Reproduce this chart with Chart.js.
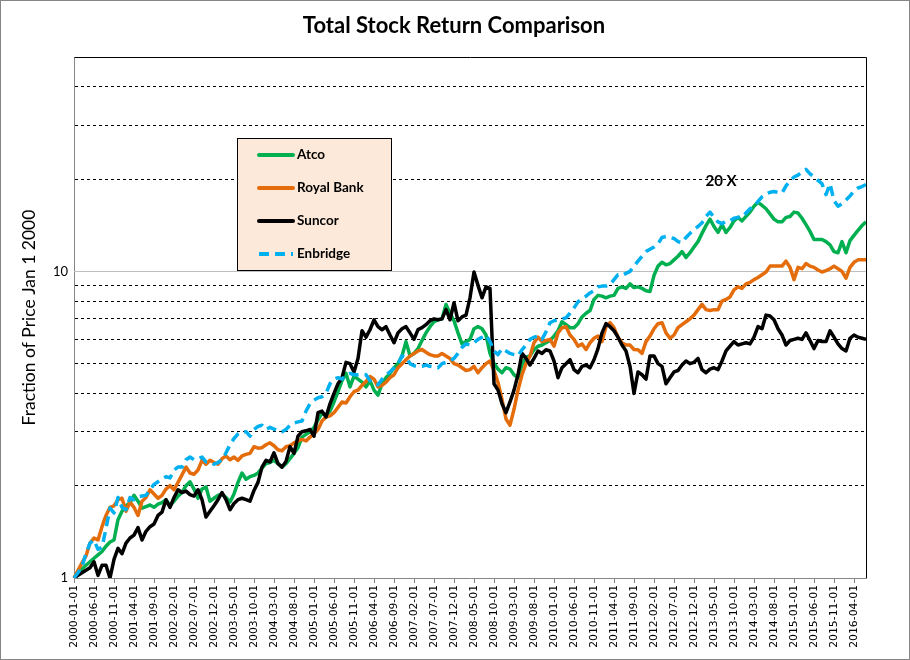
<!DOCTYPE html>
<html>
<head>
<meta charset="utf-8">
<title>Total Stock Return Comparison</title>
<script src="https://cdn.jsdelivr.net/npm/chart.js@4.4.1/dist/chart.umd.min.js"></script>
<style>
  html, body { margin: 0; padding: 0; background: #fff; }
  canvas { display: block; }
</style>
</head>
<body>
<canvas id="returnChart" width="910" height="660"></canvas>
<script>
// monthly closes, Jan 2000 .. Jul 2016, as fraction of Jan 1 2000 price
const months = [];
for (let y = 2000; y <= 2016; y++) {
    for (let m = 1; m <= 12; m++) {
        if (y === 2016 && m > 7) break;
        months.push(y + '-' + String(m).padStart(2, '0') + '-01');
    }
}

const atco = [
    1.0, 1.03, 1.07, 1.1, 1.13, 1.16, 1.19, 1.22, 1.27, 1.31,
    1.33, 1.55, 1.65, 1.72, 1.76, 1.86, 1.78, 1.69, 1.71, 1.73,
    1.7, 1.74, 1.76, 1.8, 1.72, 1.78, 1.85, 1.9, 2.0, 2.06,
    1.95, 1.82, 1.95, 1.98, 1.78, 1.82, 1.86, 1.88, 1.83, 1.77,
    1.88, 2.05, 2.2, 2.1, 2.14, 2.16, 2.2, 2.28, 2.36, 2.38,
    2.42, 2.36, 2.3, 2.36, 2.45, 2.55, 2.66, 2.88, 2.94, 3.0,
    3.1, 3.28, 3.45, 3.4, 3.5, 3.75, 4.05, 4.4, 4.65, 4.2,
    4.55, 4.45, 4.35, 4.2, 4.4, 4.1, 3.95, 4.3, 4.5, 4.65,
    4.85, 5.0, 5.3, 5.9, 5.3, 5.4, 5.6, 5.95, 6.3, 6.6,
    6.85, 6.95, 7.0, 7.8, 7.3, 6.9, 6.3, 5.8, 5.9, 6.0,
    6.5, 6.6, 6.5, 6.2, 5.4, 5.0, 4.8, 4.67, 4.85, 4.8,
    4.6, 4.5, 4.95, 5.25, 5.3, 5.55, 5.7, 5.75, 5.85, 5.95,
    6.15, 6.4, 6.85, 6.7, 6.55, 6.55, 6.75, 7.1, 7.3, 7.45,
    8.1, 8.35, 8.3, 8.2, 8.3, 8.35, 8.8, 8.9, 8.8, 9.1,
    8.85, 8.9, 8.8, 8.65, 8.6, 9.7, 10.4, 10.7, 10.5, 10.6,
    10.9, 11.2, 11.6, 11.1, 11.5, 12.0, 12.5, 13.3, 14.1, 14.8,
    14.0, 13.4, 14.2, 13.4, 13.9, 14.6, 15.0, 14.6, 15.1, 15.6,
    16.3, 16.8, 16.4, 16.0, 15.4, 14.8, 14.5, 14.5, 15.0, 15.1,
    15.6, 15.5, 14.9, 14.2, 13.5, 12.7, 12.7, 12.7, 12.5, 12.2,
    11.6, 11.5, 12.5, 11.5, 12.6, 13.1, 13.6, 14.1, 14.5
];

const royalBank = [
    1.0, 1.06, 1.12, 1.18, 1.3, 1.35, 1.33, 1.47, 1.6, 1.7,
    1.72, 1.8, 1.82, 1.65, 1.77, 1.7, 1.6, 1.78, 1.83, 1.94,
    1.88, 1.82, 1.86, 1.95, 2.0, 1.94, 2.05, 2.17, 2.3, 2.2,
    2.18, 2.25, 2.42, 2.35, 2.42, 2.38, 2.35, 2.45, 2.5, 2.43,
    2.48, 2.42, 2.5, 2.53, 2.55, 2.68, 2.65, 2.66, 2.72, 2.76,
    2.7, 2.62, 2.6, 2.68, 2.7, 2.76, 2.8, 2.83, 2.8, 2.88,
    2.95, 3.05, 3.25, 3.35, 3.38, 3.46, 3.6, 3.75, 3.72, 3.9,
    4.05, 4.1, 4.25, 4.37, 4.54, 4.45, 4.2, 4.25, 4.35, 4.5,
    4.6, 4.85, 5.0, 5.15, 5.3, 5.4, 5.5, 5.56, 5.45, 5.35,
    5.3, 5.3, 5.4, 5.3, 5.2, 5.0, 4.95, 4.85, 4.75, 4.78,
    4.9, 4.67, 4.85, 5.0, 5.1, 4.75, 4.34, 3.82, 3.3, 3.15,
    3.55, 4.1, 4.6, 5.0, 5.3, 5.85, 6.1, 5.9, 5.95, 6.0,
    5.7, 6.3, 6.55, 6.6, 6.2, 6.0, 5.7, 5.8, 5.56, 5.85,
    6.05, 6.15, 5.9, 6.6, 6.8, 6.55, 6.1, 5.85, 5.75, 5.75,
    5.56, 5.55, 5.4, 5.9, 6.15, 6.5, 6.75, 6.8, 6.3, 6.05,
    6.2, 6.55, 6.7, 6.85, 7.0, 7.2, 7.5, 7.8, 7.5, 7.45,
    7.5, 7.5, 8.0, 8.1, 8.25, 8.7, 8.9, 8.8, 9.1, 9.2,
    9.4, 9.55, 9.75, 9.95, 10.4, 10.4, 10.4, 10.4, 10.8, 10.3,
    9.4, 10.3, 10.2, 10.6, 10.4, 10.3, 10.1, 9.95, 10.05, 10.2,
    10.4, 10.2, 10.0, 9.5, 10.3, 10.7, 10.9, 10.9, 10.9
];

const suncor = [
    1.0, 1.02, 1.04, 1.06, 1.08, 1.13, 1.02, 1.1, 1.1, 1.0,
    1.15, 1.25, 1.2, 1.3, 1.35, 1.38, 1.46, 1.33, 1.42, 1.47,
    1.5, 1.6, 1.64, 1.8, 1.7, 1.83, 1.94, 1.9, 1.92, 1.87,
    1.85, 1.94, 1.8, 1.58, 1.65, 1.72, 1.8, 1.9, 1.8, 1.67,
    1.75, 1.8, 1.82, 1.8, 1.78, 1.93, 2.05, 2.3, 2.42, 2.39,
    2.56, 2.36, 2.3, 2.4, 2.68, 2.55, 2.9, 3.0, 3.02, 3.05,
    2.9, 3.46, 3.5, 3.35, 3.7, 4.0, 4.3, 4.5, 5.05, 5.0,
    4.7, 5.2, 6.4, 6.1, 6.45, 6.95, 6.6, 6.45, 6.6, 6.2,
    5.85, 6.3, 6.5, 6.6, 6.3, 6.0, 6.46, 6.55, 6.7, 6.9,
    7.0, 6.95, 7.0, 7.5, 6.95, 7.9, 6.9, 7.1, 7.2, 8.2,
    9.95, 9.0, 8.2, 8.9, 8.8, 4.3, 4.1, 3.7, 3.46, 3.75,
    4.1, 4.6, 5.4, 5.2, 4.95, 5.2, 5.5, 5.4, 5.55, 5.5,
    5.1, 4.5, 4.85, 5.0, 5.15, 4.78, 4.67, 4.9, 4.95, 4.85,
    5.15, 5.6, 6.3, 6.75, 6.6, 6.4, 6.1, 5.75, 5.5, 4.9,
    4.0, 4.7, 4.6, 4.45, 5.3, 5.3, 5.0, 4.9, 4.3, 4.5,
    4.7, 4.75, 4.95, 5.1, 5.0, 5.05, 5.2, 4.78, 4.67, 4.8,
    4.85, 4.78, 5.1, 5.5, 5.7, 5.9, 5.75, 5.8, 5.85, 5.8,
    6.1, 6.6, 6.5, 7.2, 7.15, 6.95, 6.5, 6.2, 5.75, 5.95,
    6.0, 6.05, 6.0, 6.3, 5.95, 5.6, 5.95, 5.9, 5.9, 6.4,
    6.1, 5.8, 5.6, 5.5, 6.05, 6.2, 6.1, 6.05, 6.0
];

const enbridge = [
    1.0, 1.04, 1.09, 1.2, 1.3, 1.33, 1.24, 1.26, 1.45, 1.69,
    1.63, 1.83, 1.7, 1.67, 1.83, 1.8, 1.84, 1.85, 1.86, 1.94,
    2.02, 2.06, 2.1, 2.14, 2.12, 2.25, 2.3, 2.3, 2.43, 2.48,
    2.43, 2.45, 2.48, 2.39, 2.39, 2.35, 2.38, 2.43, 2.56, 2.72,
    2.85, 2.95, 3.0, 3.0, 2.9, 3.05, 3.12, 3.15, 3.05, 3.1,
    3.06, 3.02, 3.0, 3.05, 3.15, 3.2, 3.23, 3.25, 3.5, 3.7,
    3.8, 3.87, 3.9, 4.0, 4.3, 4.45, 4.5, 4.45, 4.6, 4.65,
    4.6, 4.6, 4.62, 4.6, 4.4, 4.3, 4.27, 4.45, 4.6, 4.7,
    4.85, 5.0, 5.3, 5.25, 5.0, 4.92, 4.9, 4.9, 4.95, 4.9,
    4.88, 4.85, 5.0, 5.05, 5.1, 5.2, 5.4, 5.65, 5.8, 5.75,
    5.85, 6.0, 6.1, 6.2, 5.9, 5.5, 5.35, 5.6, 5.5, 5.4,
    5.35, 5.3, 5.55, 5.75, 6.0, 6.1, 6.15, 6.0, 6.35, 6.8,
    6.9, 6.95, 7.0, 7.05, 7.3, 7.6, 7.95, 8.15, 8.3, 8.5,
    8.65, 8.9, 8.95, 8.95, 9.05, 9.4, 9.75, 9.7, 9.85, 10.0,
    10.4, 10.8, 11.2, 11.6, 11.8, 12.0, 12.3, 12.9, 13.0, 12.9,
    12.8, 12.5, 12.4, 12.9, 13.3, 13.7, 14.0, 14.4, 15.1, 15.6,
    15.0, 14.5, 14.3, 14.6, 14.6, 14.9, 15.0, 15.0, 15.5, 16.0,
    16.3, 16.9, 17.5, 17.9, 18.1, 18.2, 18.1, 18.0, 19.0, 19.7,
    20.3, 20.6, 21.1, 21.5, 20.8, 20.3, 19.8, 19.3, 17.8, 19.3,
    17.0, 16.3, 16.6, 17.1, 17.6, 18.3, 18.7, 18.9, 19.2
];

// log axis grid values; only 1 and 10 get a label
const yGridValues = [1, 2, 3, 4, 5, 6, 7, 8, 9, 10, 20, 30, 40, 50];
const yLabelled = [1, 10];

const FONT = 'Lato, "Open Sans", sans-serif';
const TITLE = 'Total Stock Return Comparison';

// title, legend box, solid 10x line, "20 X" note and frame
const decorPlugin = {
    id: 'decor',
    beforeDatasetsDraw(chart) {
        const { ctx, chartArea: a, scales } = chart;
        const y10 = Math.round(scales.y.getPixelForValue(10)) + 0.5;
        ctx.save();
        ctx.strokeStyle = '#bfbfbf';
        ctx.lineWidth = 1;
        ctx.beginPath();
        ctx.moveTo(a.left, y10);
        ctx.lineTo(a.right, y10);
        ctx.stroke();
        ctx.restore();
    },
    afterDatasetsDraw(chart) {
        const { ctx, chartArea: a } = chart;
        ctx.save();
        // black frame on top and right
        ctx.strokeStyle = '#000';
        ctx.lineWidth = 1;
        ctx.beginPath();
        ctx.moveTo(Math.round(a.left) + 0.5, Math.round(a.top) + 0.5);
        ctx.lineTo(Math.round(a.right) + 0.5, Math.round(a.top) + 0.5);
        ctx.lineTo(Math.round(a.right) + 0.5, Math.round(a.bottom));
        ctx.stroke();

        // title, centred on the whole picture
        ctx.fillStyle = '#000';
        ctx.font = 'bold 22px ' + FONT;
        ctx.textAlign = 'center';
        ctx.textBaseline = 'middle';
        ctx.fillText(TITLE, 454, 26);

        // legend
        const bx = 237.5, by = 138.5, bw = 154, bh = 132;
        ctx.fillStyle = '#fde9d9';
        ctx.fillRect(bx, by, bw, bh);
        ctx.strokeStyle = '#000';
        ctx.strokeRect(bx, by, bw, bh);
        chart.data.datasets.forEach((ds, k) => {
            const ly = 155 + k * 33;
            ctx.strokeStyle = ds.borderColor;
            ctx.lineWidth = 4;
            ctx.lineCap = ds.borderDash ? 'butt' : 'round';
            ctx.setLineDash(ds.borderDash || []);
            ctx.beginPath();
            ctx.moveTo(259, ly);
            ctx.lineTo(293, ly);
            ctx.stroke();
            ctx.setLineDash([]);
            ctx.fillStyle = '#000';
            ctx.font = 'bold 13.5px ' + FONT;
            ctx.textBaseline = 'middle';
            ctx.textAlign = 'left';
            ctx.fillText(ds.label, 297, ly);
        });

        // annotation
        ctx.font = 'bold 15px ' + FONT;
        ctx.textAlign = 'center';
        ctx.textBaseline = 'middle';
        ctx.fillStyle = '#000';
        ctx.fillText('20 X', 721, 181);

        // outer border of the picture
        ctx.strokeStyle = '#868686';
        ctx.lineWidth = 1;
        ctx.strokeRect(0.5, 0.5, chart.width - 1, chart.height - 1);
        ctx.restore();
    }
};

const ctx = document.getElementById('returnChart');
new Chart(ctx.getContext('2d'), {
    type: 'line',
    data: {
        labels: months,
        datasets: [
            { label: 'Atco', data: atco, borderColor: '#00b050', order: 3 },
            { label: 'Royal Bank', data: royalBank, borderColor: '#e46c0a', order: 2 },
            { label: 'Suncor', data: suncor, borderColor: '#000000', order: 1 },
            { label: 'Enbridge', data: enbridge, borderColor: '#00b0f0', borderDash: [10, 6], order: 0 }
        ]
    },
    options: {
        responsive: false,
        animation: false,
        devicePixelRatio: 1,
        datasets: {
            line: {
                borderWidth: 3.5,
                pointRadius: 0,
                tension: 0,
                fill: false,
                borderJoinStyle: 'round'
            }
        },
        layout: { padding: { left: 0, right: 44, top: 57, bottom: 0 } },
        plugins: {
            legend: { display: false },
            tooltip: { enabled: false },
            title: { display: false }
        },
        scales: {
            x: {
                type: 'category',
                offset: false,
                afterBuildTicks: (axis) => {
                    axis.ticks = axis.ticks.filter(t => t.value % 5 === 0);
                },
                afterFit: (axis) => { axis.height = 82; },
                grid: {
                    drawOnChartArea: false,
                    drawTicks: true,
                    tickLength: 5,
                    color: '#868686',
                    tickColor: '#868686'
                },
                border: { color: '#868686', width: 1 },
                ticks: {
                    autoSkip: false,
                    minRotation: 90,
                    maxRotation: 90,
                    padding: 2,
                    color: '#000',
                    font: { family: '"DejaVu Sans", sans-serif', size: 10.8 }
                }
            },
            y: {
                type: 'logarithmic',
                min: 1,
                max: 50,
                afterBuildTicks: (axis) => {
                    axis.ticks = yGridValues.map(v => ({ value: v }));
                },
                afterFit: (axis) => { axis.width = 74; },
                grid: {
                    drawTicks: false,
                    lineWidth: 1,
                    color: (c) => {
                        const v = c.tick && c.tick.value;
                        return (v === 1 || v === 10 || v === 50) ? 'rgba(0,0,0,0)' : '#000';
                    }
                },
                border: { color: '#868686', width: 1, dash: [3, 3] },
                ticks: {
                    padding: 6,
                    color: '#000',
                    font: { family: FONT, size: 13 },
                    callback: (v) => yLabelled.includes(v) ? String(v) : ''
                },
                title: {
                    display: true,
                    text: 'Fraction of Price Jan 1 2000',
                    color: '#000',
                    font: { family: FONT, size: 17.5 },
                    padding: { top: 19, bottom: 0 }
                }
            }
        }
    },
    plugins: [decorPlugin]
});
</script>
</body>
</html>
